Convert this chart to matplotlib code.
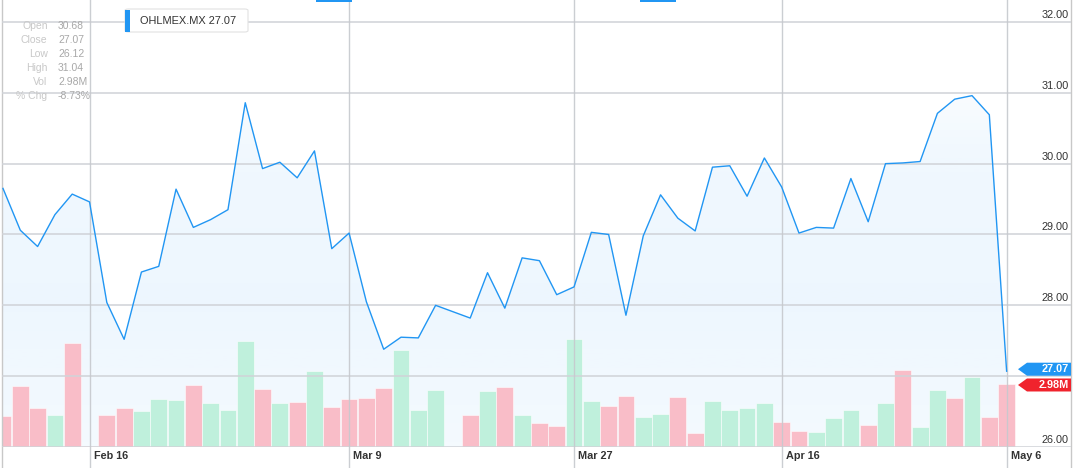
import matplotlib
matplotlib.use('Agg')
import matplotlib.pyplot as plt
import matplotlib.patches as mpatches
from matplotlib.transforms import IdentityTransform
import numpy as np

plt.rcParams['font.family'] = ['Liberation Sans', 'DejaVu Sans']

# daily closes, Feb 9 - May 6 (trading days)
close = [29.65, 29.06, 28.83, 29.28, 29.57, 29.46, 28.04, 27.52, 28.47, 28.55,
         29.64, 29.10, 29.21, 29.35, 30.86, 29.93, 30.02, 29.80, 30.18, 28.80,
         29.02, 28.05, 27.38, 27.55, 27.54, 28.00, 27.91, 27.82, 28.46, 27.96,
         28.67, 28.63, 28.15, 28.26, 29.03, 29.00, 27.86, 28.98, 29.56, 29.23,
         29.05, 29.95, 29.97, 29.54, 30.08, 29.67, 29.02, 29.10, 29.09, 29.79,
         29.18, 30.00, 30.01, 30.03, 30.71, 30.91, 30.96, 30.69, 27.07]
# volume in millions
volume = [1.48, 2.90, 1.84, 1.53, 4.92, 0.05, 1.53, 1.86, 1.70, 2.27,
          2.22, 2.95, 2.10, 1.77, 5.03, 2.76, 2.10, 2.11, 3.58, 1.91,
          2.25, 2.30, 2.77, 4.57, 1.77, 2.70, 0.00, 1.53, 2.66, 2.82,
          1.51, 1.12, 0.97, 5.12, 2.16, 1.94, 2.41, 1.42, 1.58, 2.37,
          0.68, 2.16, 1.75, 1.84, 2.10, 1.20, 0.74, 0.71, 1.35, 1.77,
          1.02, 2.10, 3.66, 0.96, 2.71, 2.32, 3.29, 1.40, 2.98]
# 1 = up day (green bar), 0 = down day (pink bar)
up = [0, 0, 0, 1, 0, 0, 0, 0, 1, 1,
      1, 0, 1, 1, 1, 0, 1, 0, 1, 0,
      0, 0, 0, 1, 1, 1, 0, 0, 1, 0,
      1, 0, 0, 1, 1, 0, 0, 1, 1, 0,
      0, 1, 1, 1, 1, 0, 0, 1, 1, 1,
      0, 1, 0, 1, 1, 0, 1, 0, 0]

date_ticks = [5, 20, 33, 45, 58]
date_labels = ['Feb 16', 'Mar 9', 'Mar 27', 'Apr 16', 'May 6']
price_ticks = [26, 27, 28, 29, 30, 31, 32]

stat_names = ['Open', 'Close', 'Low', 'High', 'Vol', '% Chg']
stat_values = ['30.68', '27.07', '26.12', '31.04', '2.98M', '-8.73%']

symbol = 'OHLMEX.MX'

W, H = 1076, 468
BLUE = '#2196f3'
RED = '#f0232d'
XLIM = (-0.058, 61.72)
PLIM = (26, 32.31)
VLIM = (0, 21.14)


def fx(px):
    return px / W


def fy(py):
    return 1 - py / H


fig = plt.figure(figsize=(W / 100, H / 100), dpi=100)
rect = [fx(2), fy(447), 1069 / W, 447 / H]

x = np.arange(len(close))

# background axes: gradient area under the price line
ax_bg = fig.add_axes(rect)
ax_bg.set_xlim(*XLIM)
ax_bg.set_ylim(*PLIM)
ax_bg.axis('off')
poly = ax_bg.fill_between(x, close, PLIM[0], color='none', lw=0)
levels = np.linspace(PLIM[0], PLIM[1], 256)
alpha = np.interp(levels, [26, 28, 30, 31, 32.31], [0.05, 0.08, 0.07, 0.03, 0.0])
grad = np.zeros((256, 1, 4))
grad[..., 0] = 33 / 255
grad[..., 1] = 150 / 255
grad[..., 2] = 243 / 255
grad[:, 0, 3] = alpha
img = ax_bg.imshow(grad, extent=[XLIM[0], XLIM[1], PLIM[0], PLIM[1]],
                   origin='lower', aspect='auto', interpolation='bilinear')
img.set_clip_path(poly.get_paths()[0], transform=ax_bg.transData)
ax_bg.set_xlim(*XLIM)
ax_bg.set_ylim(*PLIM)

# volume axes
ax_vol = fig.add_axes(rect)
ax_vol.patch.set_visible(False)
ax_vol.set_xlim(*XLIM)
ax_vol.set_ylim(*VLIM)
ax_vol.axis('off')
bar_colors = ['#bff0dc' if u else '#f9bdc8' for u in up]
ax_vol.bar(x, volume, width=0.97, color=bar_colors,
           edgecolor=(1, 1, 1, 0.55), linewidth=0.7)

# price axes on top
ax = fig.add_axes(rect)
ax.patch.set_visible(False)
ax.set_xlim(*XLIM)
ax.set_ylim(*PLIM)
ax.set_xticks([])
ax.set_yticks([])
for s in ax.spines.values():
    s.set_visible(False)

for p in price_ticks:
    ax.axhline(p, color='#d0d3d8', lw=1.4, alpha=0.8, zorder=3)
    ax.annotate('%.2f' % p, (1, p), xycoords=('axes fraction', 'data'),
                xytext=(-2, 7), textcoords='offset pixels',
                ha='right', va='center', fontsize=7.8, color='#333333')

ext = -21 / 447
for i, lab in zip(date_ticks, date_labels):
    ax.axvline(i, ymin=ext, ymax=1, clip_on=False, color='#c6c9ce',
               lw=1.0, alpha=0.9, zorder=3)
    ax.annotate(lab, (i, 0), xycoords=ax.get_xaxis_transform(),
                xytext=(4, -9), textcoords='offset pixels', ha='left',
                va='center', fontsize=7.8, fontweight='bold', color='#333333',
                annotation_clip=False)
for edge in XLIM:
    ax.axvline(edge, ymin=ext, ymax=1, clip_on=False, color='#c8c8c8', lw=1.0)

ax.plot(x, close, color=BLUE, lw=1.0, zorder=5)


# last value tags (arrow shaped, drawn in pixel space next to the value)
def value_tag(axis, value, text, color, shift):
    right = axis.transAxes.transform((1, 0))[0]
    yc = axis.transData.transform((0, value))[1] + shift
    h = 6.5
    pts = [(right - 53, yc), (right - 44, yc + h), (right, yc + h),
           (right, yc - h), (right - 44, yc - h)]
    fig.add_artist(mpatches.Polygon(pts, closed=True, fc=color, ec='none',
                                    transform=IdentityTransform(), zorder=6))
    fig.text((right - 2) / W, yc / H, text, ha='right', va='center',
             fontsize=7.8, fontweight='bold', color='white', zorder=7)


value_tag(ax, close[-1], '%.2f' % close[-1], BLUE, 2)
value_tag(ax_vol, volume[-1], '%.2fM' % volume[-1], RED, -1)

# OHLC panel
for k, (n, v) in enumerate(zip(stat_names, stat_values)):
    yy = 26 + 14.1 * k
    fig.text(fx(47.5), fy(yy), n, ha='right', va='center', fontsize=7.5, color='#c8c8c8')
    fig.text(fx(58), fy(yy), v, ha='left', va='center', fontsize=7.5, color='#a8a8a8')

# legend box
box = mpatches.FancyBboxPatch((fx(125), fy(32)), 123 / W, 23 / H,
                              boxstyle='round,pad=0,rounding_size=0.003',
                              transform=fig.transFigure, fc='white', ec='#e2e2e2', lw=0.8)
fig.patches.append(box)
fig.patches.append(mpatches.Rectangle((fx(125), fy(32)), 4.5 / W, 22 / H,
                                      transform=fig.transFigure, fc=BLUE, ec='none'))
fig.text(fx(140), fy(20.7), '%s %.2f' % (symbol, close[-1]), ha='left', va='center',
         fontsize=7.9, color='#333333')

# small selector marks at the top edge
for left in [316, 640]:
    fig.patches.append(mpatches.Rectangle((fx(left), fy(2)), 36 / W, 2 / H,
                                          transform=fig.transFigure, fc=BLUE, ec='none'))

fig.savefig('out.png', dpi=100)
